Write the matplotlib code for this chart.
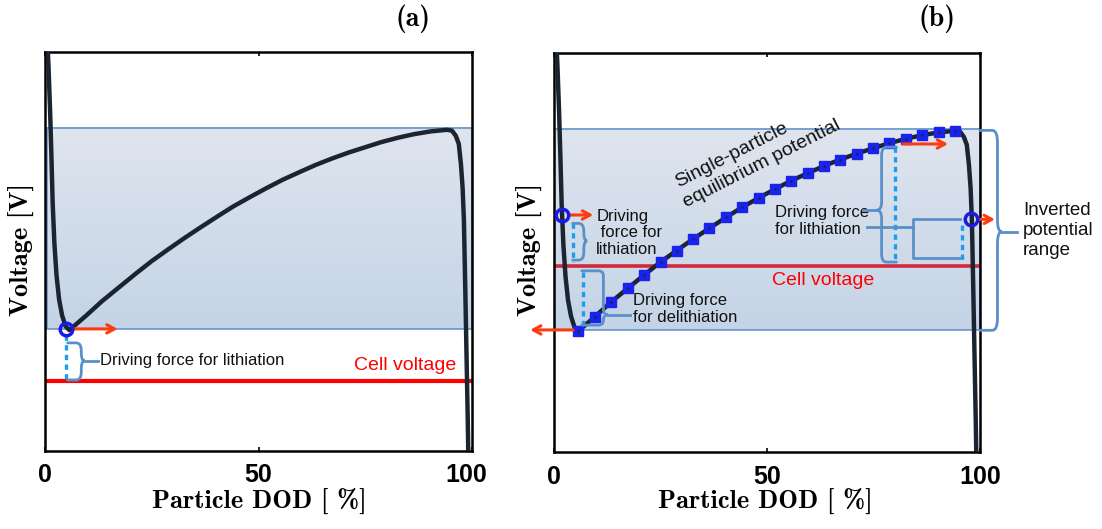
import os
import numpy as np
import matplotlib
import matplotlib.pyplot as plt
from matplotlib.path import Path
from matplotlib.patches import PathPatch, Rectangle
from matplotlib.colors import LinearSegmentedColormap
from matplotlib.font_manager import FontProperties
from matplotlib.transforms import ScaledTranslation

plt.rcParams['font.family'] = ['Liberation Sans', 'DejaVu Sans']

# single-particle equilibrium potential (arbitrary voltage units) vs DOD [%]
dod_left = [0.4, 0.8, 1.2, 1.5, 1.8, 2.2, 2.7, 3.3, 4.0, 4.8]
v_left = [1.06, 0.97, 0.85, 0.74, 0.62, 0.52, 0.44, 0.38, 0.34, 0.313]
dod_mid = [5.7, 9.6, 13.3, 17.3, 21.2, 25.0, 28.8, 32.7, 36.5, 40.4, 44.1, 48.1,
           51.9, 55.7, 59.6, 63.4, 67.2, 71.1, 74.9, 78.7, 82.6, 86.4, 90.3, 94.1]
v_mid = [0.303, 0.339, 0.375, 0.410, 0.444, 0.476, 0.505, 0.534, 0.561, 0.588, 0.613, 0.637,
         0.659, 0.680, 0.699, 0.717, 0.733, 0.748, 0.761, 0.774, 0.785, 0.794, 0.801, 0.805]
dod_right = [95.3, 96.2, 96.9, 97.4, 97.8, 98.1, 98.4, 98.7, 99.0, 99.2]
v_right = [0.803, 0.79, 0.77, 0.72, 0.66, 0.58, 0.42, 0.25, 0.08, -0.05]

band_lo, band_hi = 0.305, 0.81      # inverted potential range
cell_v_a = 0.175                    # cell voltage, panel (a)
cell_v_b = 0.466                    # cell voltage, panel (b)

dod = dod_left + dod_mid + dod_right
volt = v_left + v_mid + v_right

CURVE = '#1b2431'
BRACE = '#5b8fc8'
DOT = '#1c9ef0'
ARROW = '#ff3a10'
CIRCLE = '#1a1ae6'
SQUARE = '#1a22ee'
TXT = '#111111'

band_cmap = LinearSegmentedColormap.from_list('band', ['#dfe5ee', '#c4d4e6'])
cm_bold = os.path.join(matplotlib.get_data_path(), 'fonts', 'ttf', 'cmb10.ttf')


def brace(ax, x, y_top, y_bot, y_tip, end_dx, tip_dx, r=0.02, rx=1.2, **kw):
    r = min(r, (y_top - y_tip) / 2, (y_tip - y_bot) / 2)
    rx = np.sign(end_dx) * min(rx, abs(end_dx))
    verts = [(x - end_dx, y_top), (x - rx, y_top), (x, y_top), (x, y_top - r),
             (x, y_tip + r), (x, y_tip), (x + tip_dx, y_tip),
             (x, y_tip), (x, y_tip - r),
             (x, y_bot + r), (x, y_bot), (x - rx, y_bot), (x - end_dx, y_bot)]
    codes = [Path.MOVETO, Path.LINETO, Path.CURVE3, Path.CURVE3,
             Path.LINETO, Path.CURVE3, Path.CURVE3,
             Path.CURVE3, Path.CURVE3,
             Path.LINETO, Path.CURVE3, Path.CURVE3, Path.LINETO]
    ax.add_patch(PathPatch(Path(verts, codes), fill=False, edgecolor=BRACE,
                           lw=2, capstyle='round', zorder=6, **kw))


def arrow(ax, x0, x1, y):
    ax.annotate('', xy=(x1, y), xytext=(x0, y), annotation_clip=False,
                arrowprops=dict(arrowstyle='->,head_length=0.55,head_width=0.3',
                                color=ARROW, lw=2.2, shrinkA=0, shrinkB=0),
                zorder=7)


def dotted(ax, x, y0, y1):
    ax.plot([x, x], [y0, y1], color=DOT, lw=2.4, dashes=(1.6, 1.3), zorder=4)


def setup(ax, x0):
    ax.imshow(np.linspace(0, 1, 256).reshape(-1, 1), cmap=band_cmap, aspect='auto',
              extent=[x0, 100, band_lo, band_hi], origin='upper', zorder=0)
    ax.add_patch(Rectangle((x0, band_lo), 100 - x0, band_hi - band_lo, fill=False,
                           edgecolor=BRACE, lw=1.1, zorder=1))
    ax.plot(dod, volt, color=CURVE, lw=3.2, zorder=3, solid_capstyle='round')
    ax.set_xlim(0, 100)
    ax.set_ylim(0, 1)
    ax.set_yticks([])
    ax.set_xticks([0, 50, 100])
    ax.set_xticklabels(['0', '50', '100'], fontsize=18, fontweight='bold')
    ax.tick_params(axis='x', direction='in', length=3, width=1.2, top=True, pad=9)
    for s in ax.spines.values():
        s.set_linewidth(1.8)


fig = plt.figure(figsize=(11.02, 5.29), dpi=100)
ax1 = fig.add_axes([45 / 1102, 78 / 529, 427 / 1102, 399 / 529])
ax2 = fig.add_axes([554 / 1102, 77 / 529, 426 / 1102, 399 / 529])

# ---- panel (a)
setup(ax1, 0.5)
lab100 = ax1.get_xticklabels()[2]
lab100.set_transform(lab100.get_transform() + ScaledTranslation(-0.06, 0, fig.dpi_scale_trans))
ax1.plot([0, 100], [cell_v_a, cell_v_a], color='#ff0000', lw=3, zorder=2)
dotted(ax1, 5.0, 0.29, cell_v_a)
ax1.plot(5.0, 0.306, 'o', mfc='none', mec=CIRCLE, ms=9, mew=2.5, zorder=8)
arrow(ax1, 6.5, 17.0, 0.306)
brace(ax1, 8.5, 0.271, 0.178, 0.226, 3.2, 0.8)
ax1.plot([9.3, 12.3], [0.226, 0.226], color=BRACE, lw=2, zorder=6)
ax1.text(12.8, 0.226, 'Driving force for lithiation', fontsize=12, va='center', color=TXT)
ax1.text(72.3, 0.215, 'Cell voltage', fontsize=14, va='center', color='#ff0000')

# ---- panel (b)
setup(ax2, 0.0)
ax2.plot([0, 100], [cell_v_b, cell_v_b], color='#d22a3c', lw=2.6, zorder=2)
ax2.plot(dod_mid, v_mid, 's', color=SQUARE, ms=7.5, zorder=5)
ax2.plot(dod_mid, v_mid, '.', color=CURVE, ms=1.5, zorder=5)
ax2.text(28.6, 0.672, 'Single-particle', fontsize=14, rotation=27,
         rotation_mode='anchor', ha='left', va='center', color=TXT)
ax2.text(30.5, 0.622, 'equilibrium potential', fontsize=14, rotation=27,
         rotation_mode='anchor', ha='left', va='center', color=TXT)

# lithiation near the start
ax2.plot(1.8, 0.594, 'o', mfc='none', mec=CIRCLE, ms=9, mew=2.5, zorder=8)
arrow(ax2, 3.6, 9.2, 0.594)
dotted(ax2, 4.4, 0.575, 0.476)
brace(ax2, 7.0, 0.573, 0.481, 0.529, 2.6, 0.8)
ax2.text(9.9, 0.549, 'Driving\n force for\nlithiation', fontsize=12, va='center',
         linespacing=1.15, color=TXT)

# delithiation
dotted(ax2, 6.9, 0.452, 0.306)
brace(ax2, 11.6, 0.454, 0.318, 0.344, 5.1, 1.1)
ax2.plot([12.7, 17.8], [0.344, 0.344], color=BRACE, lw=2, zorder=6)
ax2.text(18.6, 0.359, 'Driving force\nfor delithiation', fontsize=12, va='center',
         linespacing=1.15, color=TXT)
arrow(ax2, 4.5, -5.6, 0.306)

# lithiation near the end
arrow(ax2, 81.9, 92.5, 0.772)
dotted(ax2, 80.0, 0.765, 0.477)
brace(ax2, 76.9, 0.764, 0.476, 0.606, -3.5, -1.2)
ax2.plot([75.7, 72.5], [0.606, 0.606], color=BRACE, lw=2, zorder=6)
ax2.plot([95.3, 84.3, 84.3, 95.3], [0.583, 0.583, 0.487, 0.487], color=BRACE, lw=2, zorder=6)
ax2.plot([84.3, 73.4], [0.565, 0.565], color=BRACE, lw=2, zorder=6)
ax2.text(51.9, 0.578, 'Driving force\nfor lithiation', fontsize=12, va='center',
         linespacing=1.15, color=TXT)
dotted(ax2, 95.7, 0.569, 0.477)
ax2.plot(98.0, 0.583, 'o', mfc='none', mec=CIRCLE, ms=9, mew=2.5, zorder=8, clip_on=False)
arrow(ax2, 99.6, 103.5, 0.583)

# inverted potential range
brace(ax2, 104.1, band_hi - 0.004, band_lo, 0.552, 4.1, 1.0, r=0.03, clip_on=False)
ax2.plot([105.1, 108.6], [0.552, 0.552], color=BRACE, lw=2, zorder=6, clip_on=False)
ax2.text(110.1, 0.555, 'Inverted\npotential\nrange', fontsize=13.5, va='center',
         linespacing=1.2, color=TXT)
ax2.text(63.1, 0.431, 'Cell voltage', fontsize=14, ha='center', va='center', color='#ff0000')

# axis labels and panel tags
for xc, yl_x, tag, tag_x in [(259, 22, '(a)', 413), (765, 530, '(b)', 937)]:
    fig.text(xc / 1102, 1 - 502 / 529, 'Particle DOD [ %]',
             fontproperties=FontProperties(fname=cm_bold, size=19), ha='center', va='center')
    fig.text(yl_x / 1102, 1 - 250 / 529, 'Voltage [V]',
             fontproperties=FontProperties(fname=cm_bold, size=19),
             rotation=90, ha='center', va='center')
    fig.text(tag_x / 1102, 1 - 19 / 529, tag,
             fontproperties=FontProperties(fname=cm_bold, size=20), ha='center', va='center')

fig.savefig('out.png', dpi=100)
